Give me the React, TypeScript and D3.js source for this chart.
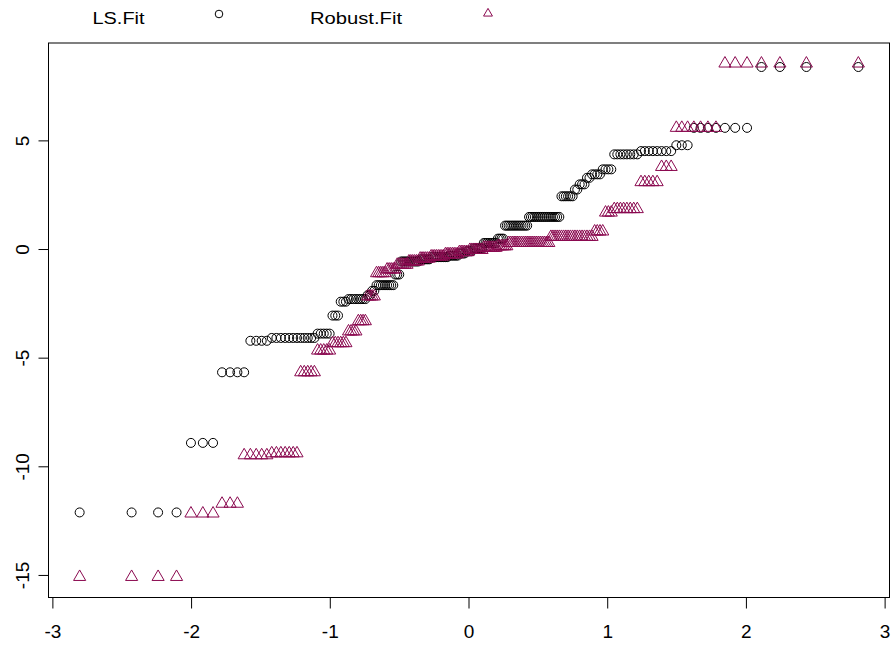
import React from "react";
import * as d3 from "d3";

// Sorted residual levels (y) and how many consecutive order statistics share each level
const lsLevels = [-12.1, -8.9, -5.65, -4.2, -4.07, -3.87, -3.04, -2.4, -2.28, -2.1, -1.9, -1.64, -1.15, -0.55, -0.45, -0.35, -0.28, -0.18, -0.08, 0.05, 0.3, 0.5, 1.1, 1.5, 2.45, 2.76, 3.0, 3.3, 3.46, 3.69, 4.38, 4.53, 4.8, 5.6, 8.4];
const lsCounts = [4, 3, 4, 4, 12, 5, 3, 3, 8, 2, 2, 9, 3, 10, 6, 10, 6, 4, 4, 6, 8, 4, 13, 16, 6, 2, 3, 2, 4, 4, 8, 8, 3, 7, 4];

const robustLevels = [-15.07, -12.15, -11.7, -9.47, -9.38, -5.65, -4.65, -4.31, -3.77, -3.3, -2.16, -1.09, -0.92, -0.7, -0.55, -0.42, -0.32, -0.22, -0.12, -0.02, 0.08, 0.15, 0.3, 0.58, 0.83, 1.7, 1.86, 3.1, 3.8, 5.6, 8.56];
const robustCounts = [4, 3, 3, 5, 7, 5, 5, 6, 4, 4, 4, 5, 5, 6, 6, 6, 8, 8, 6, 8, 8, 6, 22, 19, 4, 3, 8, 5, 3, 7, 7];

const xTickValues = [-3, -2, -1, 0, 1, 2, 3];
const yTickValues = [5, 0, -5, -10, -15];
const legendLabels = ["LS.Fit", "Robust.Fit"];

const ROBUST_COLOR = "#8B0A50";
const FONT = "'Liberation Sans', Arial, Helvetica, sans-serif";

function expand(levels: number[], counts: number[]): number[] {
  const out: number[] = [];
  levels.forEach((v, k) => {
    for (let j = 0; j < counts[k]; j++) out.push(v);
  });
  return out;
}

// inverse standard normal CDF (Acklam)
function qnorm(p: number): number {
  const a = [-3.969683028665376e1, 2.209460984245205e2, -2.759285104469687e2, 1.38357751867269e2, -3.066479806614716e1, 2.506628277459239];
  const b = [-5.447609879822406e1, 1.615858368580409e2, -1.556989798598866e2, 6.680131188771972e1, -1.328068155288572e1];
  const c = [-7.784894002430293e-3, -3.223964580411365e-1, -2.400758277161838, -2.549732539343734, 4.374664141464968, 2.938163982698783];
  const d = [7.784695709041462e-3, 3.224671290700398e-1, 2.445134137142996, 3.754408661907416];
  const pl = 0.02425;
  if (p < pl) {
    const q = Math.sqrt(-2 * Math.log(p));
    return (((((c[0] * q + c[1]) * q + c[2]) * q + c[3]) * q + c[4]) * q + c[5]) / ((((d[0] * q + d[1]) * q + d[2]) * q + d[3]) * q + 1);
  }
  if (p > 1 - pl) {
    const q = Math.sqrt(-2 * Math.log(1 - p));
    return -(((((c[0] * q + c[1]) * q + c[2]) * q + c[3]) * q + c[4]) * q + c[5]) / ((((d[0] * q + d[1]) * q + d[2]) * q + d[3]) * q + 1);
  }
  const q = p - 0.5;
  const r = q * q;
  return ((((((a[0] * r + a[1]) * r + a[2]) * r + a[3]) * r + a[4]) * r + a[5]) * q) / (((((b[0] * r + b[1]) * r + b[2]) * r + b[3]) * r + b[4]) * r + 1);
}

function pad(ext: [number, number]): [number, number] {
  const r = ext[1] - ext[0];
  return [ext[0] - 0.04 * r, ext[1] + 0.04 * r];
}

function triPath(cx: number, cy: number, R: number): string {
  const r = 1.5551 * R;
  const xc = 1.3468 * R;
  const yc = 0.7776 * R;
  return `M${cx},${cy - r}L${cx + xc},${cy + yc}L${cx - xc},${cy + yc}Z`;
}

export default function App() {
  const ls = expand(lsLevels, lsCounts);
  const rob = expand(robustLevels, robustCounts);
  const n = ls.length;
  const qx = d3.range(n).map((i) => qnorm((i + 0.5) / n));

  const left = 48.5, right = 889.5, top = 43, bottom = 597.5;
  const x = d3.scaleLinear().domain(pad(d3.extent(qx) as [number, number])).range([left, right]);
  const y = d3.scaleLinear().domain(pad(d3.extent([...ls, ...rob]) as [number, number])).range([bottom, top]);

  const R = 4.5;

  return (
    <svg width={893} height={645} style={{ position: "absolute", left: 0, top: 0, background: "#fff" }} fontFamily={FONT}>
      <rect x={0} y={0} width={893} height={645} fill="#fff" />
      {/* legend */}
      <text x={92.5} y={24} fontSize={16} textLength={52} lengthAdjust="spacingAndGlyphs" fill="#000">{legendLabels[0]}</text>
      <circle cx={219} cy={14} r={3.8} fill="none" stroke="#000" strokeWidth={1} />
      <text x={310} y={24} fontSize={16} textLength={92} lengthAdjust="spacingAndGlyphs" fill="#000">{legendLabels[1]}</text>
      <path d={triPath(488, 13.5, 3.3)} fill="none" stroke={ROBUST_COLOR} strokeWidth={1} />

      {/* box */}
      <rect x={left} y={top} width={right - left} height={bottom - top} fill="none" stroke="#000" strokeWidth={1} />

      {/* x axis */}
      <line x1={x(xTickValues[0])} x2={x(xTickValues[xTickValues.length - 1])} y1={bottom} y2={bottom} stroke="#000" />
      {xTickValues.map((t) => (
        <g key={"xt" + t}>
          <line x1={x(t)} x2={x(t)} y1={bottom} y2={bottom + 11} stroke="#000" />
          <text x={x(t)} y={638} fontSize={19} textAnchor="middle" fill="#000">{t}</text>
        </g>
      ))}

      {/* y axis */}
      <line x1={left} x2={left} y1={y(yTickValues[0])} y2={y(yTickValues[yTickValues.length - 1])} stroke="#000" />
      {yTickValues.map((t) => (
        <g key={"yt" + t}>
          <line x1={left - 10} x2={left} y1={y(t)} y2={y(t)} stroke="#000" />
          <text transform={`translate(28.5,${y(t)}) rotate(-90)`} fontSize={19} textAnchor="middle" fill="#000">{t}</text>
        </g>
      ))}

      {/* LS points */}
      {ls.map((v, i) => (
        <circle key={"ls" + i} cx={x(qx[i])} cy={y(v)} r={R} fill="none" stroke="#000" strokeWidth={1} />
      ))}
      {/* Robust points */}
      {rob.map((v, i) => (
        <path key={"rb" + i} d={triPath(x(qx[i]), y(v), R)} fill="none" stroke={ROBUST_COLOR} strokeWidth={1} />
      ))}
    </svg>
  );
}
